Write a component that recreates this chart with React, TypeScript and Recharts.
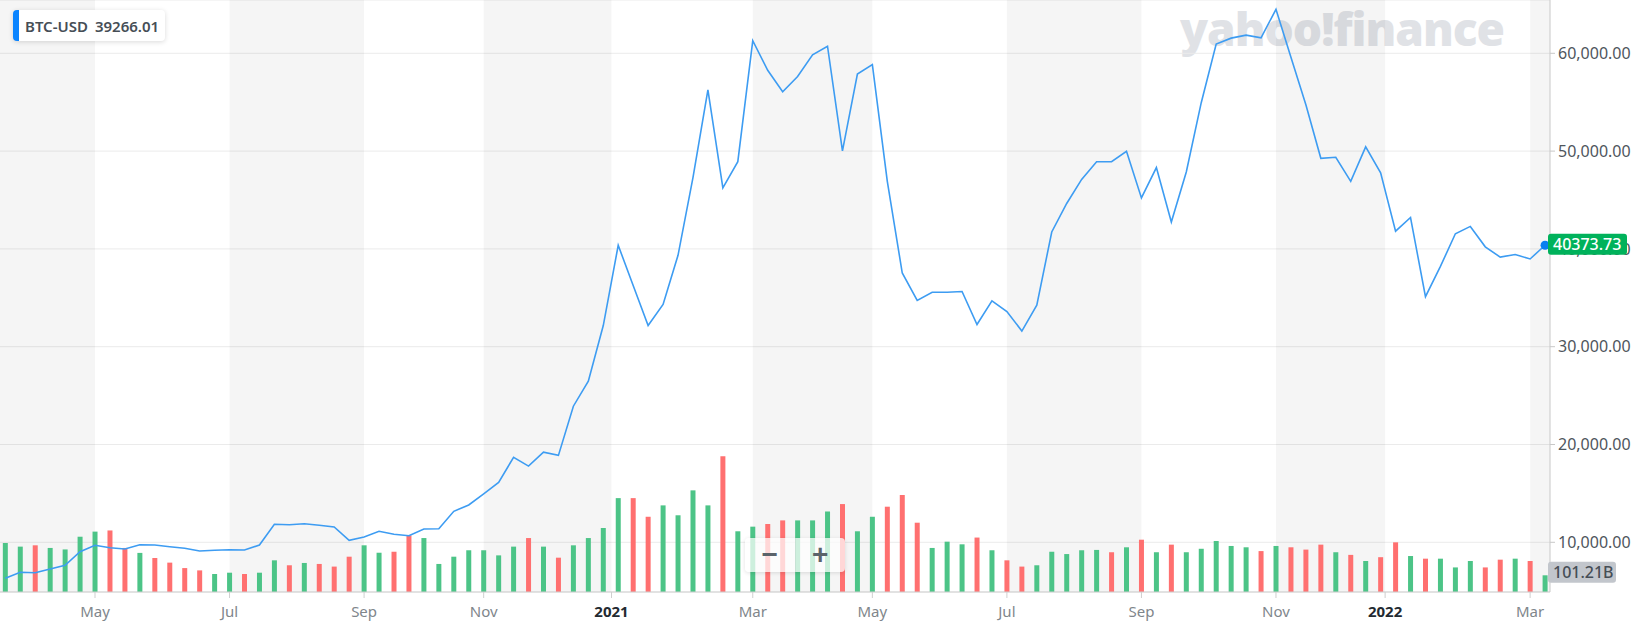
import { ComposedChart, Line, Bar, Cell, XAxis, YAxis, CartesianGrid, ReferenceArea, ReferenceLine, ReferenceDot } from 'recharts';

// weekly BTC-USD closes, Mar 2020 -> Mar 2022
const closes = [
  6319, 6933, 6880, 7270, 7648, 9039, 9693, 9448, 9315, 9755,
  9724, 9550, 9386, 9110, 9182, 9243, 9213, 9724, 11840, 11800,
  11902, 11738, 11565, 10204, 10542, 11125, 10818, 10675, 11360, 11390,
  13170, 13814, 14950, 16125, 18690, 17790, 19222, 18885, 23915, 26480,
  32160, 40370, 36250, 32160, 34315, 39345, 47290, 56257, 46237, 48915,
  61290, 58260, 56073, 57620, 59850, 60725, 50020, 57885, 58835, 46910,
  37535, 34730, 35560, 35560, 35640, 32270, 34690, 33600, 31595, 34240,
  41730, 44645, 47105, 48915, 48915, 49980, 45215, 48313, 42750, 47865,
  54950, 60950, 61550, 61860, 61590, 64500, 59590, 54745, 49260, 49370,
  46910, 50430, 47785, 41810, 43210, 35110, 38210, 41545, 42300, 40215,
  39160, 39430, 38970, 40373.73,
];

// weekly volume, billions
const volumes = [
  297, 275, 283, 267, 258, 335, 366, 373, 267, 237,
  206, 178, 145, 131, 109, 117, 109, 117, 192, 162,
  176, 170, 154, 214, 283, 238, 244, 343, 327, 170,
  214, 253, 253, 222, 275, 327, 275, 208, 283, 327,
  388, 569, 569, 456, 525, 465, 616, 525, 822, 368,
  396, 412, 434, 434, 434, 488, 533, 368, 456, 517,
  588, 420, 267, 305, 289, 330, 253, 192, 154, 162,
  244, 230, 253, 255, 241, 271, 317, 241, 287, 241,
  262, 309, 279, 271, 248, 279, 271, 257, 287, 241,
  225, 188, 211, 301, 218, 202, 202, 149, 188, 149,
  196, 202, 188, 101.21,
];

// 1 = up week (green), 0 = down week (red)
const volumeUp = [
  1, 1, 0, 1, 1, 1, 1, 0, 0, 1,
  0, 0, 0, 0, 1, 1, 0, 1, 1, 0,
  1, 0, 0, 0, 1, 1, 0, 0, 1, 1,
  1, 1, 1, 1, 1, 0, 1, 0, 1, 1,
  1, 1, 0, 0, 1, 1, 1, 1, 0, 1,
  1, 0, 0, 1, 1, 1, 0, 1, 1, 0,
  0, 0, 1, 1, 1, 0, 1, 0, 0, 1,
  1, 1, 1, 1, 0, 1, 0, 1, 0, 1,
  1, 1, 1, 1, 0, 1, 0, 0, 0, 1,
  0, 1, 0, 0, 1, 0, 1, 1, 1, 0,
  0, 1, 0, 1,
];

const tickIndex = [6, 15, 24, 32, 40.55, 50, 58, 67, 76, 85, 92.3, 102];
const tickLabels = ['May', 'Jul', 'Sep', 'Nov', '2021', 'Mar', 'May', 'Jul', 'Sep', 'Nov', '2022', 'Mar'];
const priceTicks = [10000, 20000, 30000, 40000, 50000, 60000];

const symbol = 'BTC-USD';
const headerPrice = '39266.01';
const lastPrice = 40373.73;
const lastVolume = 101.21;

const X_MIN = -0.355;
const X_MAX = 103.33;

const GREEN = '#4cc487';
const RED = '#ff7070';

const data = closes.map((close, i) => ({ i, close, vol: volumes[i], up: volumeUp[i] }));

const bounds = [X_MIN, ...tickIndex, X_MAX];
const bands = bounds
  .slice(0, -1)
  .map((b, k) => ({ x1: b, x2: bounds[k + 1], shaded: k % 2 === 0 }))
  .filter((b) => b.shaded);

const labelFor = (v: number) => tickLabels[tickIndex.indexOf(v)] ?? '';

function XTick(props: any) {
  const { x, y, payload } = props;
  const label = labelFor(payload.value);
  const isYear = /^\d{4}$/.test(label);
  return (
    <text
      x={x}
      y={y + 17}
      textAnchor="middle"
      fontSize={15}
      fill={isYear ? '#232a31' : '#80868b'}
      fontWeight={isYear ? 700 : 400}
    >
      {label}
    </text>
  );
}

function Tag(props: any) {
  const { viewBox, text, fill, color, w, dy = 0 } = props;
  const x = viewBox.x + viewBox.width - 2;
  const cy = viewBox.y + dy;
  return (
    <g>
      <rect x={x} y={cy - 10.5} width={w} height={21} rx={3} fill={fill} />
      <text x={x + 5} y={cy + 5.5} fontSize={16} fill={color} fontWeight={500}>
        {text}
      </text>
    </g>
  );
}

export default function App() {
  return (
    <div
      style={{
        position: 'absolute',
        left: 0,
        top: 0,
        width: 1636,
        height: 621,
        overflow: 'hidden',
        background: '#fff',
        fontFamily: '"Noto Sans", sans-serif',
      }}
    >
      <div
        style={{
          position: 'absolute',
          left: 1180,
          top: 5,
          fontFamily: '"Open Sans", sans-serif',
          fontWeight: 800,
          fontSize: 46,
          lineHeight: 1,
          letterSpacing: -1,
          color: '#e0e2e6',
          zIndex: 0,
        }}
      >
        yahoo!finance
      </div>
      <div style={{ position: 'absolute', left: 0, top: 0, zIndex: 1 }}>
        <ComposedChart width={1636} height={621} data={data} margin={{ top: 0, right: 0, bottom: 0, left: 0 }}>
          <CartesianGrid yAxisId="price" vertical={false} stroke="#ebebeb" />
          {bands.map((b, k) => (
            <ReferenceArea
              key={k}
              yAxisId="price"
              x1={b.x1}
              x2={b.x2}
              fill="#000"
              fillOpacity={0.04}
              strokeOpacity={0}
              ifOverflow="visible"
            />
          ))}
          <XAxis
            type="number"
            dataKey="i"
            domain={[X_MIN, X_MAX]}
            ticks={tickIndex}
            interval={0}
            allowDataOverflow
            height={29}
            tickSize={6}
            stroke="#cfcfcf"
            tick={<XTick />}
          />
          <YAxis
            yAxisId="price"
            orientation="right"
            domain={[4918, 65450]}
            ticks={priceTicks}
            allowDataOverflow
            width={86}
            tickSize={5}
            tickMargin={3}
            stroke="#c8c8c8"
            tick={{ fontSize: 16, fill: '#4f565d' }}
            tickFormatter={(v: number) => v.toLocaleString('en-US', { minimumFractionDigits: 2 })}
          />
          <YAxis yAxisId="vol" hide domain={[0, 3588]} />
          <Bar dataKey="vol" yAxisId="vol" barSize={5} isAnimationActive={false}>
            {data.map((d, k) => (
              <Cell key={k} fill={d.up ? GREEN : RED} />
            ))}
          </Bar>
          <Line
            yAxisId="price"
            dataKey="close"
            stroke="#3d9cf2"
            strokeWidth={1.6}
            dot={false}
            activeDot={false}
            isAnimationActive={false}
          />
          <ReferenceDot yAxisId="price" x={data.length - 1} y={lastPrice} r={4.5} fill="#0a7ff0" stroke="none" />
          <ReferenceLine
            yAxisId="price"
            y={lastPrice}
            stroke="none"
            zIndex={3000}
            label={<Tag text={lastPrice.toFixed(2)} fill="#00b25b" color="#fff" w={79} dy={-1} />}
          />
          <ReferenceLine
            yAxisId="vol"
            y={lastVolume}
            stroke="none"
            zIndex={3000}
            label={<Tag text={`${lastVolume}B`} fill="#c2c6cc" color="#464e56" w={68} dy={-3} />}
          />
        </ComposedChart>
      </div>

      <div
        style={{
          position: 'absolute',
          left: 13,
          top: 10,
          height: 31,
          width: 152,
          boxSizing: 'border-box',
          background: '#fff',
          borderRadius: 4,
          borderLeft: '6px solid #0a84ff',
          boxShadow: '0 1px 5px rgba(0,0,0,0.15)',
          display: 'flex',
          alignItems: 'center',
          paddingLeft: 6,
          gap: 7,
          fontSize: 15,
          fontWeight: 600,
          color: '#464e56',
          zIndex: 2,
        }}
      >
        <span>{symbol}</span>
        <span>{headerPrice}</span>
      </div>

      <div
        style={{
          position: 'absolute',
          left: 745,
          top: 538,
          width: 100,
          height: 34,
          background: 'rgba(255,255,255,0.72)',
          borderRadius: 4,
          boxShadow: '0 1px 4px rgba(0,0,0,0.12)',
          display: 'flex',
          zIndex: 2,
          color: '#5b636a',
          fontFamily: 'Arial, sans-serif',
          fontWeight: 700,
          fontSize: 28,
        }}
      >
        <div style={{ flex: 1, display: 'flex', alignItems: 'center', justifyContent: 'center', borderRight: '1px solid rgba(0,0,0,0.06)' }}>−</div>
        <div style={{ flex: 1, display: 'flex', alignItems: 'center', justifyContent: 'center' }}>+</div>
      </div>
    </div>
  );
}
